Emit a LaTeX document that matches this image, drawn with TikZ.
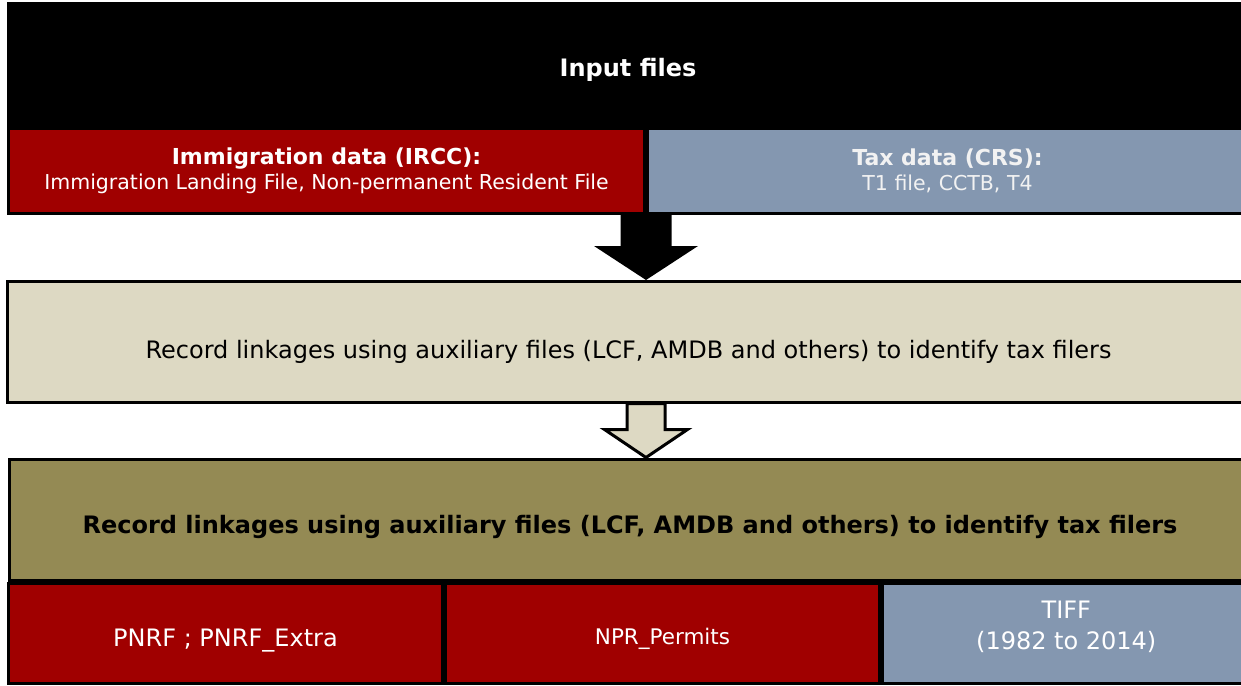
\documentclass[tikz,border=0pt]{standalone}
\usepackage{fontspec}
\setmainfont{DejaVu Sans}
\usetikzlibrary{calc, backgrounds}
\definecolor{ircdred}{HTML}{A00000}
\definecolor{crsblue}{HTML}{8497B0}
\definecolor{linkbeige}{HTML}{DDD9C3}
\definecolor{outolive}{HTML}{948A54}
\definecolor{crstext}{HTML}{F2F2F2}

\tikzset{
  basebox/.style={rectangle, draw=black, line width=3pt, align=center, inner sep=0pt},
  inbox/.style={basebox, fill=black, text=white, font=\fontsize{24}{28}\selectfont\bfseries,
    text height=21.6pt, text depth=0pt},
  srcred/.style={basebox, fill=ircdred, text=white, font=\fontsize{20.5}{25}\selectfont},
  srcblue/.style={basebox, fill=crsblue, text=crstext, font=\fontsize{20.5}{25}\selectfont},
  linkbox/.style={basebox, fill=linkbeige, text=black, font=\fontsize{24}{28}\selectfont,
    text height=33.4pt, text depth=0pt},
  outbox/.style={basebox, fill=outolive, text=black, font=\fontsize{24}{28}\selectfont\bfseries,
    text height=27.4pt, text depth=0pt},
  filered/.style={basebox, fill=ircdred, text=white},
  fileblue/.style={basebox, fill=crsblue, text=white},
}
\newcommand{\srchead}[1]{{\fontsize{22}{25}\selectfont\bfseries #1}}

\begin{document}
\begin{tikzpicture}[x=1pt, y=-1pt]
\useasboundingbox (0,0) rectangle (1241,685);

% input files header and the two sources
\node[inbox, minimum width=1240, minimum height=124] (input) at (628,66) {Input files};
\node[srcred, minimum width=636, minimum height=85] (imm) at (326.5,171)
  {\srchead{Immigration data (IRCC):}\\Immigration Landing File, Non-permanent Resident File};
\node[srcblue, minimum width=600, minimum height=85] (tax) at (947.5,171)
  {\srchead{Tax data (CRS):}\\T1 file, CCTB, T4};

% linkage step
\node[linkbox, minimum width=1243, minimum height=120.5] (link) at (628.5,341.75)
  {Record linkages using auxiliary files (LCF, AMDB and others) to identify tax filers};

% linked output and the resulting files
\node[outbox, minimum width=1241, minimum height=121.5] (out) at (630,519.75)
  {Record linkages using auxiliary files (LCF, AMDB and others) to identify tax filers};
\node[filered, minimum width=434, minimum height=100, font=\fontsize{24}{28}\selectfont,
  text height=26.4pt, text depth=0pt] (pnrf) at (225.5,633.5) {PNRF ; PNRF\_Extra};
\node[filered, minimum width=434, minimum height=100, font=\fontsize{21.5}{26}\selectfont,
  text height=22.6pt, text depth=0pt] (npr) at (662.5,633.5) {NPR\_Permits};
\node[fileblue, minimum width=367.5, minimum height=100, font=\fontsize{24}{31}\selectfont] (tiff) at (1066.25,633.5)
  {\raisebox{0pt}[32pt][31pt]{\begin{tabular}{@{}c@{}}TIFF\\(1982 to 2014)\end{tabular}}};

% block arrows between the steps
\coordinate (a1) at ($(imm.south east)!0.5!(tax.south west)$);
\coordinate (t1) at (a1 |- link.north);
\coordinate (a2) at (link.south -| a1);
\coordinate (t2) at (a2 |- out.north);
\begin{scope}[on background layer]
  \fill[black] ($(a1)+(-25.5,0)$) -- ($(a1)+(25.5,0)$) -- ($(t1)+(25.5,-34)$)
    -- ($(t1)+(52,-34)$) -- (t1) -- ($(t1)+(-52,-34)$) -- ($(t1)+(-25.5,-34)$) -- cycle;
  \draw[fill=linkbeige, line width=3pt, miter limit=4] ($(a2)+(-19,0)$) -- ($(a2)+(19,0)$)
    -- ($(t2)+(19,-28)$) -- ($(t2)+(41.5,-28)$) -- (t2) -- ($(t2)+(-41.5,-28)$)
    -- ($(t2)+(-19,-28)$) -- cycle;
\end{scope}
\end{tikzpicture}
\end{document}
